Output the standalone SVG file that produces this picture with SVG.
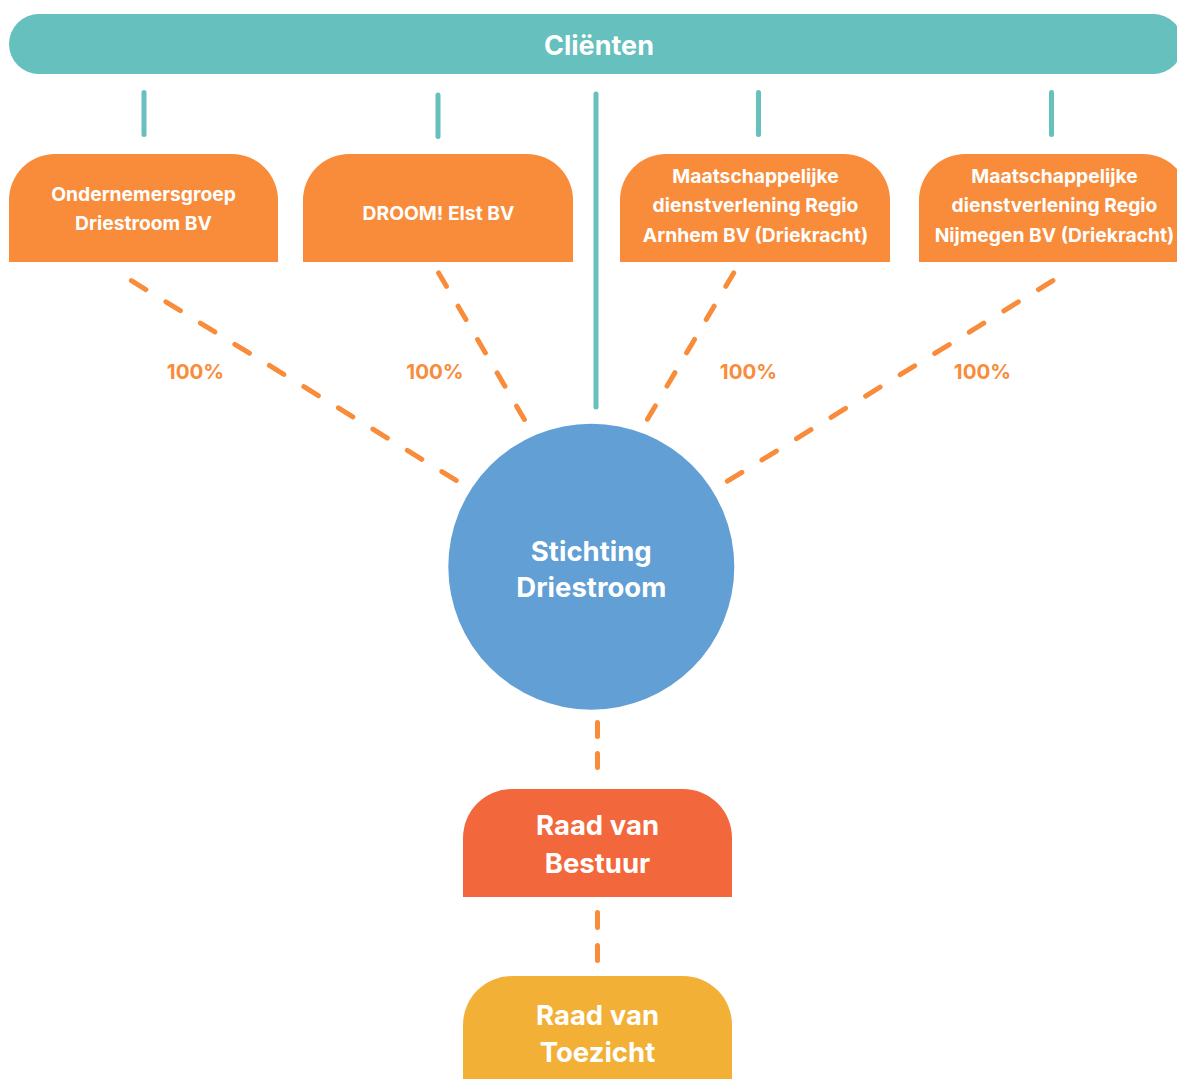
<svg xmlns="http://www.w3.org/2000/svg" width="1177" height="1079" viewBox="0 0 1177 1079">
<style>
  .t { font-family: Inter, "Noto Sans", "DejaVu Sans", sans-serif; font-weight: 700; fill: #ffffff; text-anchor: middle; }
  .sm { font-size: 19.3px; }
  .lg { font-size: 27.5px; }
  .pct { font-family: Inter, "Noto Sans", "DejaVu Sans", sans-serif; font-weight: 700; font-size: 20.5px; fill: #F98C3A; text-anchor: middle; }
  .teal { stroke: #66C0BD; stroke-width: 5; stroke-linecap: round; fill: none; }
  .dash { stroke: #F98C3A; stroke-width: 5; stroke-linecap: round; fill: none; }
</style>
<rect width="1177" height="1079" fill="#ffffff"/>

<g id="connectors">
  <line class="teal" x1="144" y1="92.5" x2="144" y2="134.5"/>
  <line class="teal" x1="438" y1="95" x2="438" y2="136.5"/>
  <line class="teal" x1="758.5" y1="92.5" x2="758.5" y2="134.5"/>
  <line class="teal" x1="1051.5" y1="92.5" x2="1051.5" y2="134.5"/>
  <line class="teal" x1="596" y1="94" x2="596" y2="407"/>
  <line class="dash" x1="131.4" y1="280.6" x2="456.2" y2="480.4" stroke-dasharray="17 23.5"/>
  <line class="dash" x1="438.6" y1="272.9" x2="524.4" y2="419.5" stroke-dasharray="15.5 23.1"/>
  <line class="dash" x1="733.7" y1="272.9" x2="647.3" y2="419.5" stroke-dasharray="15.5 23.1"/>
  <line class="dash" x1="1052.9" y1="280.6" x2="727.1" y2="481.4" stroke-dasharray="17 23.6"/>
  <line class="dash" x1="597.5" y1="722.5" x2="597.5" y2="768.5" stroke-dasharray="14 17"/>
  <line class="dash" x1="597.5" y1="912.5" x2="597.5" y2="960.5" stroke-dasharray="15 18"/>
  <text class="pct" x="195.5" y="378.5">100%</text>
  <text class="pct" x="435" y="378.5">100%</text>
  <text class="pct" x="748.5" y="378.5">100%</text>
  <text class="pct" x="982.5" y="378.5">100%</text>
</g>

<g id="clienten">
  <rect x="9" y="14" width="1174" height="60" rx="30" ry="30" fill="#66C0BD"/>
  <text class="t" x="599" y="54.5" font-size="27">Cliënten</text>
</g>

<g id="ondernemersgroep">
  <path d="M9 262 V200 A46 46 0 0 1 55 154 H232 A46 46 0 0 1 278 200 V262 Z" fill="#F98C3A"/>
  <text class="t sm" x="143.5" y="201">Ondernemersgroep</text>
  <text class="t sm" x="143.5" y="230">Driestroom BV</text>
</g>

<g id="droom">
  <path d="M303 262 V200 A46 46 0 0 1 349 154 H527 A46 46 0 0 1 573 200 V262 Z" fill="#F98C3A"/>
  <text class="t sm" x="438.5" y="220">DROOM! Elst BV</text>
</g>

<g id="mdr-arnhem">
  <path d="M620 262 V200 A46 46 0 0 1 666 154 H844 A46 46 0 0 1 890 200 V262 Z" fill="#F98C3A"/>
  <text class="t sm" x="755.5" y="183">Maatschappelijke</text>
  <text class="t sm" x="755.5" y="212">dienstverlening Regio</text>
  <text class="t sm" x="755.5" y="241.5">Arnhem BV (Driekracht)</text>
</g>

<g id="mdr-nijmegen">
  <path d="M919 262 V200 A46 46 0 0 1 965 154 H1143 A46 46 0 0 1 1189 200 V262 Z" fill="#F98C3A"/>
  <text class="t sm" x="1054.5" y="183">Maatschappelijke</text>
  <text class="t sm" x="1054.5" y="212">dienstverlening Regio</text>
  <text class="t sm" x="1054.5" y="241.5">Nijmegen BV (Driekracht)</text>
</g>

<g id="stichting">
  <circle cx="591.3" cy="566.7" r="143" fill="#629FD5"/>
  <text class="t lg" x="591.3" y="560.7">Stichting</text>
  <text class="t lg" x="591.3" y="597.3">Driestroom</text>
</g>

<g id="raad-van-bestuur">
  <path d="M463 897 V838 A49 49 0 0 1 512 789 H683 A49 49 0 0 1 732 838 V897 Z" fill="#F2673C"/>
  <text class="t lg" x="597.5" y="835">Raad van</text>
  <text class="t lg" x="597.5" y="872.5">Bestuur</text>
</g>

<g id="raad-van-toezicht">
  <path d="M463 1090 V1025 A49 49 0 0 1 512 976 H683 A49 49 0 0 1 732 1025 V1090 Z" fill="#F2B037"/>
  <text class="t lg" x="597.5" y="1025">Raad van</text>
  <text class="t lg" x="597.5" y="1062">Toezicht</text>
</g>
</svg>
